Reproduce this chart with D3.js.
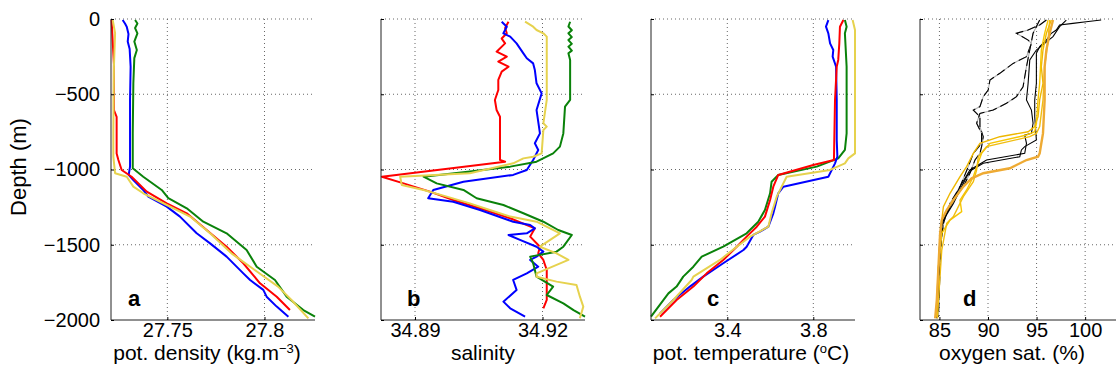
<!doctype html>
<html>
<head>
<script src="https://cdn.jsdelivr.net/npm/d3@7"></script>
<style>
  body { margin: 0; background: #fff; }
  svg { display: block; font-family: "Liberation Sans", Arial, sans-serif; }
</style>
</head>
<body>
<svg width="1116" height="383"></svg>
<script>
// ---- data: [value, depth (m)] ----
var depthTicks = [0, -500, -1000, -1500, -2000];

var densityTicks = [27.75, 27.8];
var densityRed = [[27.7213,-7],[27.7225,-300],[27.7225,-605],[27.7239,-650],[27.7239,-893],[27.7248,-937],[27.7265,-1003],[27.7316,-1048],[27.7394,-1147],[27.7497,-1225],[27.7600,-1291],[27.7702,-1402],[27.7805,-1513],[27.7891,-1623],[27.7977,-1756],[27.8063,-1845],[27.8131,-1934]];
var densityBlue = [[27.7270,-7],[27.7282,-30],[27.7291,-51],[27.7300,-100],[27.7296,-150],[27.7306,-200],[27.7311,-317],[27.7308,-538],[27.7308,-760],[27.7308,-981],[27.7301,-1036],[27.7325,-1070],[27.7376,-1136],[27.7402,-1180],[27.7497,-1247],[27.7565,-1313],[27.7651,-1424],[27.7720,-1491],[27.7805,-1579],[27.7891,-1690],[27.7926,-1734],[27.7994,-1800],[27.8011,-1845],[27.8063,-1911],[27.8123,-1978]];
var densityGreen = [[27.7334,-7],[27.7346,-30],[27.7334,-60],[27.7346,-95],[27.7330,-150],[27.7343,-206],[27.7330,-260],[27.7325,-427],[27.7322,-760],[27.7322,-992],[27.7376,-1048],[27.7471,-1136],[27.7505,-1191],[27.7600,-1258],[27.7685,-1347],[27.7805,-1424],[27.7908,-1535],[27.7960,-1646],[27.8054,-1734],[27.8114,-1845],[27.8200,-1934],[27.8260,-1978]];
var densityYellow = [[27.7219,-7],[27.7231,-95],[27.7225,-317],[27.7222,-760],[27.7222,-915],[27.7231,-1025],[27.7291,-1048],[27.7325,-1114],[27.7376,-1158],[27.7497,-1236],[27.7617,-1313],[27.7720,-1424],[27.7830,-1557],[27.7950,-1668],[27.8070,-1778],[27.8139,-1867],[27.8226,-1989]];

var salinityTicks = [34.89, 34.92];
var salinityRed = [[34.9120,-18],[34.9112,-60],[34.9116,-95],[34.9104,-130],[34.9112,-162],[34.9092,-217],[34.9116,-250],[34.9096,-283],[34.9120,-317],[34.9104,-350],[34.9096,-405],[34.9096,-472],[34.9088,-538],[34.9092,-605],[34.9100,-649],[34.9100,-937],[34.9112,-948],[34.8822,-1048],[34.8873,-1092],[34.8935,-1147],[34.8990,-1203],[34.9053,-1258],[34.9124,-1324],[34.9182,-1391],[34.9171,-1446],[34.9194,-1513],[34.9190,-1557],[34.9202,-1601],[34.9210,-1668],[34.9210,-1867],[34.9202,-1922]];
var salinityBlue = [[34.9104,-18],[34.9116,-51],[34.9108,-95],[34.9124,-117],[34.9139,-162],[34.9147,-195],[34.9155,-228],[34.9163,-261],[34.9178,-295],[34.9182,-339],[34.9186,-427],[34.9198,-494],[34.9186,-605],[34.9194,-760],[34.9182,-826],[34.9190,-870],[34.9178,-937],[34.9163,-1003],[34.9131,-1036],[34.9014,-1081],[34.8943,-1136],[34.8931,-1191],[34.8990,-1214],[34.9053,-1269],[34.9131,-1347],[34.9171,-1369],[34.9182,-1391],[34.9163,-1424],[34.9120,-1435],[34.9147,-1468],[34.9186,-1513],[34.9202,-1546],[34.9186,-1579],[34.9171,-1601],[34.9190,-1646],[34.9163,-1690],[34.9131,-1734],[34.9139,-1800],[34.9108,-1878],[34.9124,-1922],[34.9159,-1978]];
var salinityYellow = [[34.9159,-18],[34.9178,-51],[34.9186,-73],[34.9202,-95],[34.9210,-117],[34.9210,-538],[34.9202,-693],[34.9210,-715],[34.9202,-738],[34.9198,-893],[34.9178,-915],[34.9155,-926],[34.9131,-959],[34.9029,-1025],[34.8865,-1048],[34.8869,-1103],[34.8920,-1136],[34.8975,-1180],[34.9029,-1225],[34.9076,-1269],[34.9124,-1313],[34.9186,-1347],[34.9241,-1424],[34.9218,-1468],[34.9194,-1513],[34.9233,-1557],[34.9261,-1601],[34.9186,-1690],[34.9186,-1712],[34.9233,-1745],[34.9280,-1767],[34.9288,-1845],[34.9296,-1911],[34.9288,-1989]];
var salinityGreen = [[34.9265,-18],[34.9261,-50],[34.9269,-75],[34.9261,-95],[34.9269,-120],[34.9261,-140],[34.9269,-165],[34.9261,-184],[34.9269,-210],[34.9261,-228],[34.9265,-272],[34.9265,-538],[34.9253,-582],[34.9249,-760],[34.9241,-848],[34.9225,-893],[34.9186,-948],[34.9124,-981],[34.9029,-1014],[34.8920,-1048],[34.8951,-1092],[34.9014,-1136],[34.9045,-1191],[34.9108,-1236],[34.9155,-1291],[34.9202,-1347],[34.9237,-1402],[34.9269,-1435],[34.9249,-1513],[34.9233,-1546],[34.9171,-1579],[34.9178,-1623],[34.9186,-1712],[34.9225,-1778],[34.9210,-1834],[34.9249,-1889],[34.9273,-1934],[34.9300,-1978]];

var tempTicks = [3.4, 3.8];
var tempBlue = [[3.870,-7],[3.859,-51],[3.870,-95],[3.878,-162],[3.893,-206],[3.890,-250],[3.906,-317],[3.909,-538],[3.909,-804],[3.912,-915],[3.901,-959],[3.870,-1048],[3.661,-1114],[3.637,-1158],[3.622,-1247],[3.614,-1291],[3.591,-1380],[3.552,-1413],[3.521,-1435],[3.490,-1513],[3.475,-1535],[3.381,-1623],[3.288,-1712],[3.226,-1778],[3.149,-1867],[3.087,-1956]];
var tempRed = [[3.940,-7],[3.924,-51],[3.921,-162],[3.916,-272],[3.909,-317],[3.901,-538],[3.896,-937],[3.800,-970],[3.637,-1036],[3.614,-1114],[3.599,-1203],[3.575,-1313],[3.537,-1380],[3.490,-1446],[3.444,-1513],[3.381,-1601],[3.304,-1690],[3.242,-1778],[3.164,-1867],[3.087,-1978]];
var tempGreen = [[3.947,-7],[3.955,-51],[3.947,-95],[3.955,-317],[3.955,-760],[3.947,-870],[3.916,-926],[3.816,-981],[3.637,-1036],[3.606,-1081],[3.599,-1158],[3.575,-1269],[3.544,-1347],[3.490,-1424],[3.381,-1513],[3.281,-1579],[3.242,-1646],[3.195,-1712],[3.164,-1778],[3.126,-1823],[3.045,-1978]];
var tempYellow = [[3.983,-7],[3.994,-73],[3.994,-893],[3.963,-926],[3.947,-959],[3.878,-1003],[3.676,-1048],[3.653,-1114],[3.630,-1180],[3.606,-1291],[3.591,-1380],[3.506,-1446],[3.444,-1513],[3.366,-1601],[3.242,-1712],[3.234,-1734],[3.149,-1867],[3.064,-1989]];

var oxygenTicks = [85, 90, 95, 100];
var oxyBlack1 = [[101.65,-7],[100.11,-18],[98.74,-29],[97.37,-40],[97.03,-73],[96.52,-95],[96.01,-140],[95.32,-184],[94.98,-228],[94.98,-427],[94.81,-538],[94.81,-649],[94.98,-804],[93.78,-848],[93.44,-870],[93.27,-915],[89.51,-959],[88.32,-1003],[87.80,-1048],[87.12,-1136],[86.44,-1225],[85.41,-1336],[85.07,-1424],[84.90,-1646],[84.73,-1978]];
var oxyBlack2 = [[98.06,-7],[97.37,-51],[96.69,-117],[94.98,-206],[94.30,-272],[94.13,-427],[93.96,-538],[94.47,-605],[94.64,-693],[94.47,-760],[93.78,-771],[93.96,-826],[93.78,-893],[89.85,-937],[88.14,-1003],[87.12,-1114],[86.09,-1247],[85.24,-1358],[85.00,-1535],[84.90,-1867],[84.73,-1989]];
var oxyDash1 = [[96.01,-7],[95.32,-40],[94.13,-73],[92.93,-95],[94.13,-140],[94.47,-162],[93.96,-250],[92.59,-295],[91.22,-361],[90.20,-405],[90.02,-472],[89.51,-516],[89.17,-582],[88.49,-605],[89.17,-649],[89.17,-715],[89.51,-782],[89.34,-848],[89.17,-893],[88.66,-937],[88.14,-1025],[87.46,-1114],[86.44,-1203],[85.58,-1313],[85.24,-1424],[85.07,-1646],[84.90,-1978]];
var oxyDash2 = [[95.32,-7],[94.64,-95],[94.30,-206],[93.96,-317],[93.61,-450],[92.93,-516],[91.90,-560],[90.54,-605],[89.17,-627],[88.83,-693],[89.34,-760],[89.34,-826],[88.49,-893],[87.97,-981],[87.12,-1114],[86.09,-1225],[85.41,-1358],[85.07,-1535],[84.90,-1867]];
var oxyGold1 = [[96.52,-7],[96.01,-95],[95.66,-206],[95.49,-317],[95.66,-427],[95.32,-538],[95.15,-649],[94.81,-715],[94.13,-749],[91.22,-782],[89.17,-826],[88.49,-893],[87.80,-981],[87.12,-1048],[86.09,-1158],[85.41,-1247],[85.24,-1336],[85.00,-1535],[84.73,-1867],[84.66,-1978]];
var oxyGold2 = [[96.18,-7],[95.83,-95],[95.49,-206],[95.32,-427],[95.15,-538],[94.98,-693],[94.81,-749],[93.96,-771],[90.20,-826],[89.34,-893],[88.83,-981],[88.49,-1048],[87.80,-1136],[87.12,-1203],[87.29,-1280],[86.09,-1336],[85.24,-1424],[84.90,-1646],[84.73,-1978]];
var oxyGold3 = [[96.35,-7],[96.18,-140],[95.83,-317],[95.66,-538],[95.32,-715],[94.98,-760],[94.30,-782],[89.85,-848],[89.00,-915],[88.83,-1003],[88.49,-1081],[87.46,-1180],[86.95,-1247],[86.44,-1313],[85.75,-1358],[85.24,-1535],[84.90,-1867],[84.80,-1989]];
var oxyOrange = [[96.69,-7],[96.52,-51],[96.35,-95],[96.01,-206],[95.83,-317],[95.83,-538],[95.66,-760],[95.49,-826],[95.32,-893],[95.15,-915],[93.96,-937],[92.25,-992],[89.51,-1025],[88.32,-1059],[87.46,-1114],[86.44,-1203],[85.75,-1269],[85.24,-1336],[85.07,-1424],[84.90,-1646],[84.73,-1867],[84.56,-1989]];

var RED = "#ff0000", BLUE = "#0000ff", GREEN = "#0a820a", YELLOW = "#e6d24e";

var panels = [
  { left: 111, domain: [27.721, 27.826], ticks: densityTicks, fmt: d3.format(".4~f"), letter: "a", letterX: 27.7297,
    series: [[densityBlue, BLUE], [densityGreen, GREEN], [densityRed, RED], [densityYellow, YELLOW]] },
  { left: 381, domain: [34.882, 34.930], ticks: salinityTicks, fmt: d3.format(".2f"), letter: "b", letterX: 34.8881,
    series: [[salinityRed, RED], [salinityBlue, BLUE], [salinityGreen, GREEN], [salinityYellow, YELLOW]] },
  { left: 651, domain: [3.045, 3.994], ticks: tempTicks, fmt: d3.format(".1f"), letter: "c", letterX: 3.305,
    series: [[tempGreen, GREEN], [tempBlue, BLUE], [tempRed, RED], [tempYellow, YELLOW]] },
  { left: 920, domain: [83, 104], ticks: oxygenTicks, fmt: d3.format("d"), letter: "d", letterX: 87.43, series: [] }
];

var svg = d3.select("svg");
var W = 204, topY = 19, bottomY = 320;
var y = d3.scaleLinear().domain([-2000, 0]).range([bottomY, topY]);
var minus = function(v) { return String(v).replace("-", "\u2212"); };

panels.forEach(function(p, i) {
  var x = d3.scaleLinear().domain(p.domain).range([p.left, p.left + W]);
  var g = svg.append("g");

  // dotted grid
  g.selectAll("line.vg").data(p.ticks).enter().append("line")
    .attr("x1", function(d) { return x(d); }).attr("x2", function(d) { return x(d); })
    .attr("y1", topY).attr("y2", bottomY)
    .attr("stroke", "#555").attr("stroke-width", 0.9).attr("stroke-dasharray", "1,3");
  g.selectAll("line.hg").data(depthTicks.slice(0, 4)).enter().append("line")
    .attr("x1", p.left).attr("x2", p.left + W)
    .attr("y1", function(d) { return y(d); }).attr("y2", function(d) { return y(d); })
    .attr("stroke", "#555").attr("stroke-width", 0.9).attr("stroke-dasharray", "1,3");

  var line = d3.line().x(function(d) { return x(d[0]); }).y(function(d) { return y(d[1]); });

  p.series.forEach(function(s) {
    g.append("path").attr("d", line(s[0])).attr("fill", "none")
      .attr("stroke", s[1]).attr("stroke-width", 2).attr("stroke-linejoin", "round");
  });

  if (p.letter === "d") {
    [oxyDash1, oxyDash2].forEach(function(s) {
      g.append("path").attr("d", line(s)).attr("fill", "none").attr("stroke", "#aaa").attr("stroke-width", 1.1);
      g.append("path").attr("d", line(s)).attr("fill", "none").attr("stroke", "#000").attr("stroke-width", 1.1)
        .attr("stroke-dasharray", "9,4");
    });
    [oxyBlack1, oxyBlack2].forEach(function(s) {
      g.append("path").attr("d", line(s)).attr("fill", "none").attr("stroke", "#000").attr("stroke-width", 1.1);
    });
    [[oxyGold1, "#eeb700"], [oxyGold2, "#f6c600"], [oxyGold3, "#f0bd10"]].forEach(function(s) {
      g.append("path").attr("d", line(s[0])).attr("fill", "none").attr("stroke", s[1]).attr("stroke-width", 1.4);
    });
    g.append("path").attr("d", line(oxyOrange)).attr("fill", "none").attr("stroke", "#eeaa33").attr("stroke-width", 2.4);
  }

  // axes (left and bottom only, ticks inward)
  g.append("g").attr("transform", "translate(0," + bottomY + ")")
    .call(d3.axisBottom(x).tickValues(p.ticks).tickSize(-3).tickPadding(3).tickFormat(p.fmt))
    .call(function(a) {
      a.select(".domain").attr("d", "M" + p.left + ",0H" + (p.left + W)).attr("stroke", "#222");
      a.selectAll("text").attr("font-size", 20).attr("fill", "#000").attr("font-family", "Liberation Sans, Arial, sans-serif");
    });
  g.append("g").attr("transform", "translate(" + p.left + ",0)")
    .call(d3.axisLeft(y).tickValues(depthTicks).tickSize(-3).tickPadding(11).tickFormat(i === 0 ? minus : ""))
    .call(function(a) {
      a.select(".domain").attr("d", "M0," + topY + "V" + bottomY).attr("stroke", "#222");
      a.selectAll("text").attr("font-size", 20).attr("fill", "#000").attr("font-family", "Liberation Sans, Arial, sans-serif");
    });

  g.append("text").attr("x", x(p.letterX)).attr("y", 306)
    .attr("font-size", 22).attr("font-weight", "bold").text(p.letter);
});

// axis titles
var t1 = svg.append("text").attr("x", 207).attr("y", 360).attr("text-anchor", "middle").attr("font-size", 21);
t1.append("tspan").text("pot. density (kg.m");
t1.append("tspan").attr("dy", -7).attr("font-size", 13).text("\u22123");
t1.append("tspan").attr("dy", 7).text(")");

svg.append("text").attr("x", 483).attr("y", 360).attr("text-anchor", "middle").attr("font-size", 21).text("salinity");

var t3 = svg.append("text").attr("x", 751).attr("y", 360).attr("text-anchor", "middle").attr("font-size", 21);
t3.append("tspan").text("pot. temperature (");
t3.append("tspan").attr("dy", -7).attr("font-size", 13).text("o");
t3.append("tspan").attr("dy", 7).text("C)");

svg.append("text").attr("x", 1012).attr("y", 360).attr("text-anchor", "middle").attr("font-size", 21).text("oxygen sat. (%)");

svg.append("text").attr("transform", "translate(26,167) rotate(-90)")
  .attr("text-anchor", "middle").attr("font-size", 22).text("Depth (m)");
</script>
</body>
</html>
